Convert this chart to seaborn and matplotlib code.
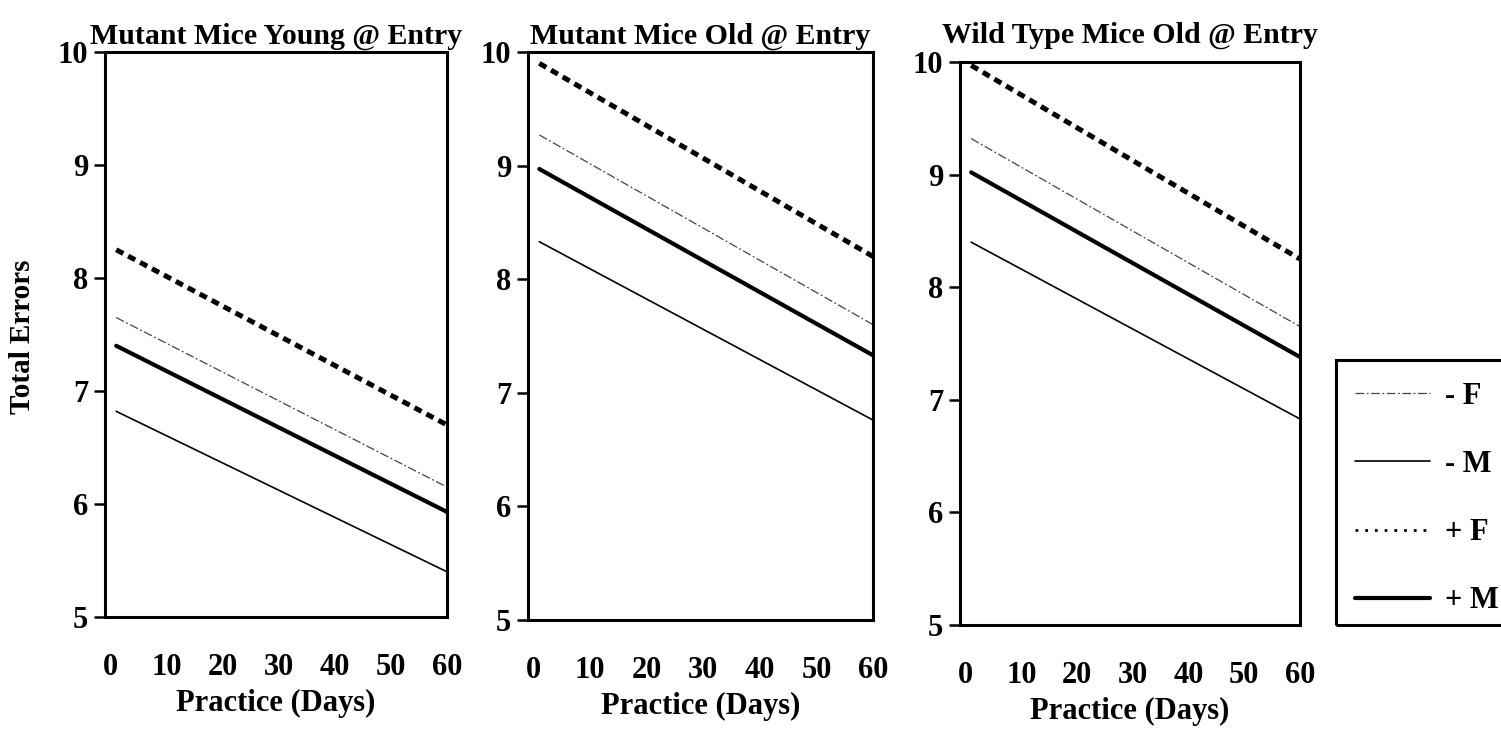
import matplotlib
matplotlib.use("Agg")
import matplotlib.pyplot as plt
import seaborn as sns
import pandas as pd
from matplotlib.lines import Line2D
from matplotlib.patches import Rectangle

sns.set_theme(style="white")
plt.rcParams['font.family'] = ['Liberation Serif', 'DejaVu Serif']
plt.rcParams['text.color'] = 'black'
plt.rcParams['axes.labelcolor'] = 'black'
plt.rcParams['xtick.color'] = 'black'
plt.rcParams['ytick.color'] = 'black'

# ---- data ----
panels = ["Mutant Mice Young @ Entry", "Mutant Mice Old @ Entry", "Wild Type Mice Old @ Entry"]
days = [1, 60]
minus_F = [[7.65, 6.15], [9.27, 7.60], [9.32, 7.65]]
minus_M = [[6.82, 5.40], [8.33, 6.76], [8.40, 6.83]]
plus_F = [[8.25, 6.70], [9.90, 8.20], [9.97, 8.25]]
plus_M = [[7.40, 5.93], [8.97, 7.33], [9.02, 7.38]]
series_names = ["- F", "- M", "+ F", "+ M"]
x_ticks = [0, 10, 20, 30, 40, 50, 60]
y_ticks = [5, 6, 7, 8, 9, 10]

rows = []
for p, name in enumerate(panels):
    for s, vals in zip(series_names, [minus_F, minus_M, plus_F, plus_M]):
        for d, v in zip(days, vals[p]):
            rows.append({"panel": name, "series": s, "day": d, "errors": v})
df = pd.DataFrame(rows)

styles = {
    "- F": dict(color="#444444", lw=0.9, ls=(0, (7, 2, 1.5, 2))),
    "- M": dict(color="black", lw=1.2, ls="-"),
    "+ F": dict(color="black", lw=3.6, ls=(0, (1.6, 1.1))),
    "+ M": dict(color="black", lw=3.0, ls="-"),
}

W, H = 1501, 730
fig = plt.figure(figsize=(W / 100, H / 100), dpi=100)
boxes = [(105, 447, 52, 617), (528, 873, 52, 620), (960, 1300, 62, 625)]
title_pads = [6, 6, 14]

for i, (name, (l, r, t, b)) in enumerate(zip(panels, boxes)):
    ax = fig.add_axes([l / W, 1 - b / H, (r - l) / W, (b - t) / H])
    sub = df[df.panel == name]
    for s in series_names:
        st = styles[s]
        d = sub[sub.series == s]
        sns.lineplot(data=d, x="day", y="errors", ax=ax, color=st["color"],
                     linewidth=st["lw"], linestyle=st["ls"], legend=False)
    ax.set_xlim(-1, 60)
    ax.set_ylim(5, 10)
    ax.set_xticks(x_ticks)
    ax.set_yticks(y_ticks)
    ax.set_xticklabels([str(v) for v in x_ticks], fontsize=22, fontweight="bold")
    ax.set_yticklabels([str(v) for v in y_ticks], fontsize=22, fontweight="bold")
    ax.tick_params(axis="x", length=0, pad=26)
    ax.tick_params(axis="y", length=8, width=1.8, color="black", direction="out", pad=4, left=True)
    for sp in ax.spines.values():
        sp.set_linewidth(2.2)
        sp.set_color("black")
    ax.set_xlabel("Practice (Days)", fontsize=22, fontweight="bold", labelpad=5)
    ax.set_ylabel("")
    ax.set_title(name, fontsize=21.5, fontweight="bold", pad=title_pads[i])
    ax.grid(False)

fig.text(23 / W, 1 - 337 / H, "Total Errors", rotation=90, ha="center", va="center",
         fontsize=21, fontweight="bold")

handles = [Line2D([], [], color=styles[s]["color"], lw=styles[s]["lw"] if s != "+ F" else 2.0,
                  ls=styles[s]["ls"] if s != "+ F" else (0, (1, 2.5))) for s in series_names]
leg = fig.legend(handles, series_names, loc="upper left",
                 bbox_to_anchor=(1355 / W, 1 - 382 / H),
                 prop={"family": "Liberation Serif", "weight": "bold", "size": 22},
                 frameon=False,
                 handlelength=2.45, handletextpad=0.5, labelspacing=1.28,
                 borderpad=0.0, borderaxespad=0)
fig.patches.append(Rectangle((1336 / W, 1 - 625 / H), 200 / W, 265 / H,
                             transform=fig.transFigure, fill=False,
                             edgecolor="black", linewidth=2.2))

fig.savefig("out.png", dpi=100)
